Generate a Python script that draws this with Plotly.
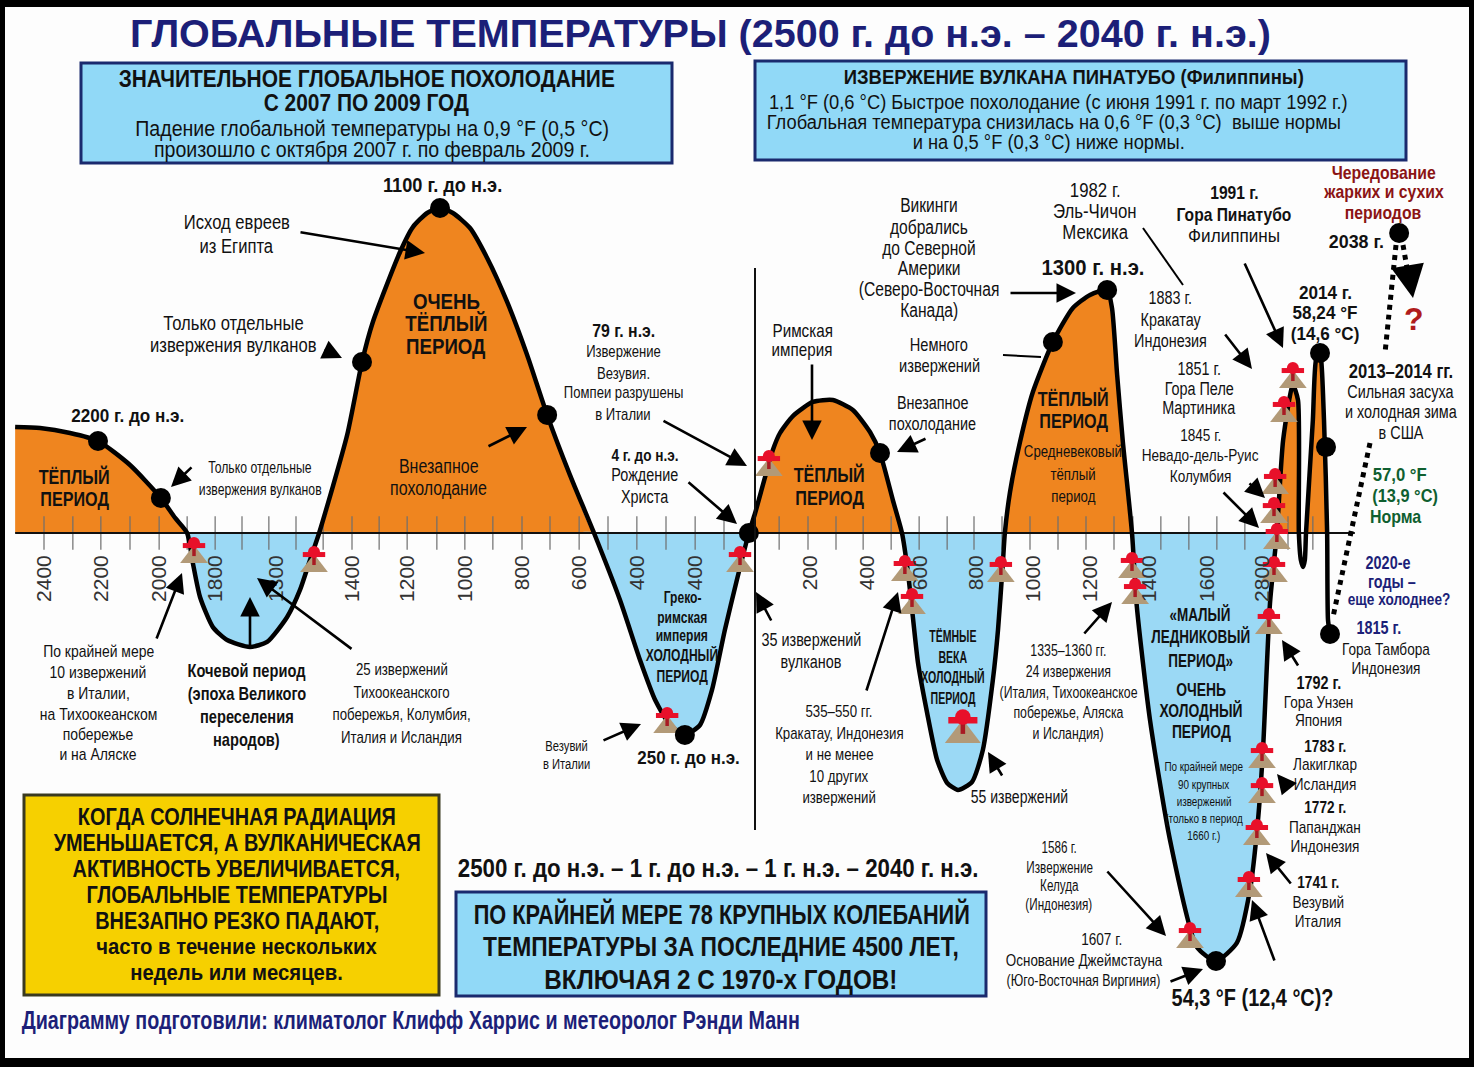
import json
import numpy as np
import plotly.graph_objects as go

W, H = 1474, 1067
PX_PER_F = 160.0
X0_PX, Y0_PX = 750, 533
NORMAL = 57.0

# chart data -------------------------------------------------------------
curve_x = [-2572,-2485,-2380,-2282,-2170,-2062,-2012,-1970,-1950,-1925,-1880,-1830,-1750,-1690,-1620,-1575,-1540,-1508,
           -1410,-1358,-1320,-1225,-1180,-1130,-1085,-1040,-980,-920,-850,-780,-710,-630,-546,-455,-385,-332,-280,-228,-175,-133,-88,-46,-4,
           18,80,105,150,220,290,360,420,455,500,532,553,570,588,620,655,690,728,777,815,850,868,885,892,
           910,945,990,1060,1130,1190,1250,1267,1285,1305,1337,1354,1400,1470,1564,1631,1704,1750,1778,1796,1820,1844,
           1866,1900,1918,1921,1928,1936,1942,1946,1970,1981,1995,2009,2020,2023,2030]
curve_t = [57.662,57.656,57.625,57.575,57.425,57.219,57.094,57.0,56.812,56.6,56.412,56.331,56.288,56.319,56.475,56.644,56.831,57.0,
           57.612,58.069,58.319,58.756,58.912,59.0,59.031,59.0,58.906,58.719,58.444,58.112,57.738,57.362,57.0,56.581,56.206,55.956,55.8,55.738,55.8,56.019,56.394,56.706,57.0,
           57.125,57.519,57.625,57.731,57.819,57.831,57.769,57.631,57.5,57.206,57.0,56.75,56.475,56.188,55.875,55.581,55.438,55.394,55.444,55.644,56.081,56.394,56.812,57.0,
           57.256,57.569,57.881,58.194,58.406,58.488,58.519,58.406,57.988,57.569,57.0,56.538,55.831,55.081,54.412,54.325,54.438,54.769,55.206,55.662,56.562,57.0,
           57.581,57.925,57.831,57.0,56.831,56.788,56.831,57.0,57.706,58.081,58.125,57.706,57.0,56.456,56.369]
COLD_END = 1844

dot_x = [-2282,-2062,-1358,-1085,-710,-228,-4,455,1060,1250,1631,1995,2016,2030,2272]
dot_t = [57.575,57.219,58.069,59.031,57.738,55.738,57.0,57.5,58.194,58.519,54.325,58.125,57.537,56.369,58.875]

volcano_x = [-1946,-1526,-290,-35,66,542,567,878,1337,1348,1900,1869,1838,1834,1844,1834,1816,1792,1792,1774,1746,1540]
volcano_t = [56.812,56.756,55.75,56.756,57.356,56.7,56.494,56.694,56.719,56.556,57.906,57.694,57.244,57.062,56.9,56.694,56.369,55.531,55.312,55.05,54.725,54.406]
big_volcano_x = [745]
big_volcano_t = [55.6875]

tick_x = [-2471,-2370,-2272,-2170,-2068,-1970,-1872,-1778,-1684,-1589,-1494,-1393,-1298,-1200,-1096,-998,-900,-798,-700,-598,-497,-396,-294,-192,-91,
          102,203,301,396,494,592,690,784,882,980,1078,1176,1274,1340,1438,1536,1634,1732,1883,1970]
label_x = [-2471,-2272,-2068,-1872,-1658,-1393,-1200,-998,-798,-598,-396,-192,210,410,595,791,990,1190,1396,1600,1792]
label_text = ["2400","2200","2000","1800","1300","1400","1200","1000","800","600","400","400","200","400","600","800","1000","1200","1400","1600","2800"]

SANS = "Liberation Sans, Arial, sans-serif"
NAVY = "#1c1f78"
ORANGE = "#ef851f"
BLUE = "#9bd9f5"

anom = np.array(curve_t) - NORMAL
cx = np.array(curve_x)
warm = np.maximum(anom, 0)
cold_mask = cx <= COLD_END
SPL = dict(shape="spline", smoothing=0.6)

fig = go.Figure()
fig.add_trace(go.Scatter(x=cx, y=warm, mode="lines", line=dict(width=0, color=ORANGE, **SPL), fill="tozeroy", fillcolor=ORANGE, hoverinfo="skip"))
fig.add_trace(go.Scatter(x=cx[cold_mask], y=np.minimum(anom, 0)[cold_mask], mode="lines", line=dict(width=0, color=BLUE, **SPL), fill="tozeroy", fillcolor=BLUE, hoverinfo="skip"))
fig.add_trace(go.Scatter(x=tick_x, y=[0]*len(tick_x), mode="markers", hoverinfo="skip",
                         marker=dict(symbol="line-ns", size=24, line=dict(width=1.2, color="#6e6e6e"))))
fig.add_trace(go.Scatter(x=[curve_x[0], 2117], y=[0, 0], mode="lines", line=dict(color="#111", width=2), hoverinfo="skip"))
fig.add_trace(go.Scatter(x=cx, y=anom, mode="lines", line=dict(color="#000", width=4.5, **SPL), hoverinfo="skip"))


def volcanoes(xs, ts, k=1.0):
    a = np.array(ts) - NORMAL
    p = 1 / PX_PER_F
    fig.add_trace(go.Scatter(x=xs, y=a + 6*k*p, mode="markers", hoverinfo="skip",
                             marker=dict(symbol="triangle-up", size=24*k, color="#b29a78", line=dict(width=0))))
    fig.add_trace(go.Scatter(x=xs, y=a + 14*k*p, mode="markers", hoverinfo="skip",
                             marker=dict(symbol="line-ns", size=10*k, line=dict(width=3.5*k, color="#a81a22"))))
    fig.add_trace(go.Scatter(x=xs, y=a + 17.5*k*p, mode="markers", hoverinfo="skip",
                             marker=dict(symbol="line-ew", size=16*k, line=dict(width=5*k, color="#e8102a"))))
    fig.add_trace(go.Scatter(x=xs, y=a + 20*k*p, mode="markers", hoverinfo="skip",
                             marker=dict(symbol="circle", size=12*k, color="#e8102a", line=dict(width=0))))


volcanoes(volcano_x, volcano_t)
volcanoes(big_volcano_x, big_volcano_t, 1.3)

fig.add_trace(go.Scatter(x=dot_x, y=np.array(dot_t) - NORMAL, mode="markers", hoverinfo="skip",
                         marker=dict(size=20, color="#000", line=dict(width=0))))

shapes, annots, squeeze = [], [], []


def px(x): return x / W
def py(y): return 1 - y / H


def rect(x0, y0, x1, y1, fill, line=None, lw=0):
    shapes.append(dict(type="rect", xref="paper", yref="paper", x0=px(x0), x1=px(x1), y0=py(y0), y1=py(y1),
                       fillcolor=fill, line=dict(color=line or fill, width=lw), layer="below"))


def seg(x0, y0, x1, y1, color="#000", w=2, dash=None):
    shapes.append(dict(type="line", xref="paper", yref="paper", x0=px(x0), x1=px(x1), y0=py(y0), y1=py(y1),
                       line=dict(color=color, width=w, dash=dash or "solid"), layer="above"))


def txt(x, y, s, size=20, bold=False, color="#111", sq=0.8):
    annots.append(dict(xref="paper", yref="paper", x=px(x), y=py(y), text=s, showarrow=False,
                       xanchor="center", yanchor="middle",
                       font=dict(family=SANS, size=size, color=color, weight="bold" if bold else "normal")))
    squeeze.append(sq)


def block(x, ys, lines, size=20, bold=False, color="#111", sq=0.8):
    for y, s in zip(ys, lines):
        txt(x, y, s, size, bold, color, sq)


def arrow(x0, y0, x1, y1, head=2, w=2.6, s=1.5):
    annots.append(dict(xref="paper", yref="paper", x=px(x1), y=py(y1), ax=x0 - x1, ay=y0 - y1, axref="pixel", ayref="pixel",
                       text="", showarrow=True, arrowhead=head, arrowwidth=w, arrowsize=s, arrowcolor="#000"))
    squeeze.append(1)


# frame and boxes
rect(0, 0, W, H, "#000")
rect(5, 7, 1469, 1058, "#fdfdfd")
rect(81, 63, 672, 163, "#91d9f7", "#1a2a6e", 3)
rect(755, 61, 1406, 160, "#91d9f7", "#1a2a6e", 3)
rect(24, 795, 439, 995, "#f6d000", "#3a3a20", 3)
rect(456, 892, 986, 996, "#91d9f7", "#1a2a6e", 3)
seg(755, 268, 755, 830, "#111", 2)

txt(700, 33, "ГЛОБАЛЬНЫЕ ТЕМПЕРАТУРЫ (2500 г. до н.э. – 2040 г. н.э.)", 39.5, True, NAVY, 1)
block(366, [79, 103], ["ЗНАЧИТЕЛЬНОЕ ГЛОБАЛЬНОЕ ПОХОЛОДАНИЕ", "С 2007 ПО 2009 ГОД"], 23.5, True, sq=0.89)
block(372, [128, 149], ["Падение глобальной температуры на 0,9 °F (0,5 °C)", "произошло с октября 2007 г. по февраль 2009 г."], 22, sq=0.89)
txt(1073, 77, "ИЗВЕРЖЕНИЕ ВУЛКАНА ПИНАТУБО (Филиппины)", 20, True, sq=0.925)
txt(1058, 102, "1,1 °F (0,6 °C) Быстрое похолодание (с июня 1991 г. по март 1992 г.)", 20, sq=0.915)
txt(1054, 122, "Глобальная температура снизилась на 0,6 °F (0,3 °C)  выше нормы", 20, sq=0.915)
txt(1049, 142, "и на 0,5 °F (0,3 °C) ниже нормы.", 20, sq=0.915)

txt(442, 185, "1100 г. до н.э.", 20, True, sq=0.91)
block(237, [222, 246], ["Исход евреев", "из Египта"], 20, sq=0.83)
block(233, [323, 345], ["Только отдельные", "извержения вулканов"], 20, sq=0.83)
block(446, [301, 323, 346], ["ОЧЕНЬ", "ТЁПЛЫЙ", "ПЕРИОД"], 22, True, sq=0.85)
block(439, [466, 488], ["Внезапное", "похолодание"], 20)
txt(128, 416, "2200 г. до н.э.", 19, True, sq=0.9)
block(74, [476, 498], ["ТЁПЛЫЙ", "ПЕРИОД"], 21, True, sq=0.77)
block(260, [467, 489], ["Только отдельные", "извержения вулканов"], 17, sq=0.72)
txt(624, 331, "79 г. н.э.", 18, True, sq=0.88)
block(623, [352, 373, 393, 414], ["Извержение", "Везувия.", "Помпеи разрушены", "в Италии"], 17, sq=0.77)
txt(645, 455, "4 г. до н.э.", 17, True)
block(645, [475, 497], ["Рождение", "Христа"], 18)
block(802, [330, 350], ["Римская", "империя"], 19)
block(933, [403, 424], ["Внезапное", "похолодание"], 18)
block(829, [474, 497], ["ТЁПЛЫЙ", "ПЕРИОД"], 21, True, sq=0.77)
block(929, [205, 227, 248, 268, 289, 310], ["Викинги", "добрались", "до Северной", "Америки", "(Северо-Восточная", "Канада)"], 20, sq=0.78)
block(939, [344, 365], ["Немного", "извержений"], 19, sq=0.77)
txt(1093, 267, "1300 г. н.э.", 22, True, sq=0.92)
block(1095, [190, 211, 232], ["1982 г.", "Эль-Чичон", "Мексика"], 20, sq=0.84)
block(1073, [398, 420], ["ТЁПЛЫЙ", "ПЕРИОД"], 21, True, sq=0.77)
block(1073, [451, 474, 496], ["Средневековый", "тёплый", "период"], 17, sq=0.78)
block(1170, [298, 320, 341], ["1883 г.", "Кракатау", "Индонезия"], 18)
block(1199, [369, 389, 408], ["1851 г.", "Гора Пеле", "Мартиника"], 18)
block(1200, [435, 455, 476], ["1845 г.", "Невадо-дель-Руис", "Колумбия"], 17)
block(1234, [193, 214], ["1991 г.", "Гора Пинатубо"], 19, True, sq=0.82)
txt(1234, 235, "Филиппины", 19, sq=0.9)
block(1383, [172, 192, 212], ["Чередование", "жарких и сухих", "периодов"], 19, True, "#8b1414", sq=0.83)
txt(1356, 242, "2038 г.", 19, True, sq=0.94)
txt(1414, 319, "?", 32, True, "#b01c1c", 1)
block(1325, [292, 312, 333], ["2014 г.", "58,24 °F", "(14,6 °C)"], 19, True, sq=0.9)
txt(1401, 371, "2013–2014 гг.", 20, True, sq=0.83)
block(1401, [392, 412, 433], ["Сильная засуха", "и холодная зима", "в США"], 18)
txt(1399, 474, "57,0 °F", 19, True, "#0f5f30", 0.88)
txt(1405, 495, "(13,9 °C)", 19, True, "#0f5f30", 0.86)
txt(1395, 516, "Норма", 19, True, "#0f5f30", 0.84)
txt(1388, 563, "2020-е", 18, True, NAVY)
txt(1392, 582, "годы –", 18, True, NAVY)
txt(1399, 599, "еще холоднее?", 17, True, NAVY)
txt(1379, 628, "1815 г.", 18, True, NAVY)
block(1386, [649, 668], ["Гора Тамбора", "Индонезия"], 17)
txt(1319, 683, "1792 г.", 18, True)
block(1318, [702, 720], ["Гора Унзен", "Япония"], 17)
txt(1325, 746, "1783 г.", 17, True)
block(1325, [765, 784], ["Лакиглкар", "Исландия"], 17)
txt(1325, 807, "1772 г.", 17, True)
block(1325, [827, 846], ["Папанджан", "Индонезия"], 17)
txt(1318, 882, "1741 г.", 17, True)
block(1318, [902, 921], ["Везувий", "Италия"], 17)
block(1200, [614, 636, 660], ["«МАЛЫЙ", "ЛЕДНИКОВЫЙ", "ПЕРИОД»"], 19, True, sq=0.71)
block(1201, [689, 710, 732], ["ОЧЕНЬ", "ХОЛОДНЫЙ", "ПЕРИОД"], 19, True, sq=0.73)
block(1204, [766, 784, 801, 818, 835], ["По крайней мере", "90 крупных", "извержений", "(только в период", "1660 г.)"], 13, sq=0.76)
block(1059, [847, 867, 885, 904], ["1586 г.", "Извержение", "Келуда", "(Индонезия)"], 16, sq=0.73)
txt(1101, 939, "1607 г.", 17)
txt(1084, 960, "Основание Джеймстауна", 17, sq=0.79)
txt(1083, 980, "(Юго-Восточная Виргиния)", 16.5, sq=0.75)
txt(1252, 998, "54,3 °F (12,4 °C)?", 23, True, sq=0.865)
block(1068, [650, 671, 692, 712, 733], ["1335–1360 гг.", "24 извержения", "(Италия, Тихоокеанское", "побережье, Аляска", "и Исландия)"], 16, sq=0.77)
block(953, [636, 657, 677, 698], ["ТЁМНЫЕ", "ВЕКА", "ХОЛОДНЫЙ", "ПЕРИОД"], 16, True, sq=0.66)
txt(1020, 797, "55 извержений", 18, sq=0.78)
block(839, [711, 733, 754, 776, 797], ["535–550 гг.", "Кракатау, Индонезия", "и не менее", "10 других", "извержений"], 17, sq=0.78)
block(811, [640, 662], ["35 извержений", "вулканов"], 18)
block(682, [597, 617, 635, 655, 676], ["Греко-", "римская", "империя", "ХОЛОДНЫЙ", "ПЕРИОД"], 17, True, sq=0.71)
txt(688, 757, "250 г. до н.э.", 19, True, sq=0.89)
block(566, [746, 764], ["Везувий", "в Италии"], 14)
block(98, [651, 672, 693, 714, 734, 754], ["По крайней мере", "10 извержений", "в Италии,", "на Тихоокеанском", "побережье", "и на Аляске"], 17, sq=0.82)
block(247, [670, 693, 716, 739], ["Кочевой период", "(эпоха Великого", "переселения", "народов)"], 19, True, sq=0.77)
block(402, [669, 692, 714, 737], ["25 извержений", "Тихоокеанского", "побережья, Колумбия,", "Италия и Исландия"], 17, sq=0.78)
block(237, [817, 843, 869, 895, 921], ["КОГДА СОЛНЕЧНАЯ РАДИАЦИЯ", "УМЕНЬШАЕТСЯ, А ВУЛКАНИЧЕСКАЯ", "АКТИВНОСТЬ УВЕЛИЧИВАЕТСЯ,", "ГЛОБАЛЬНЫЕ ТЕМПЕРАТУРЫ", "ВНЕЗАПНО РЕЗКО ПАДАЮТ,"], 23, True, sq=0.865)
block(237, [947, 972], ["часто в течение нескольких", "недель или месяцев."], 22, True, sq=0.92)
txt(718, 868, "2500 г. до н.э. – 1 г. до н.э. – 1 г. н.э. – 2040 г. н.э.", 26, True, sq=0.856)
txt(721, 914, "ПО КРАЙНЕЙ МЕРЕ 78 КРУПНЫХ КОЛЕБАНИЙ", 28, True, sq=0.776)
txt(721, 947, "ТЕМПЕРАТУРЫ ЗА ПОСЛЕДНИЕ 4500 ЛЕТ,", 28, True, sq=0.815)
txt(721, 980, "ВКЛЮЧАЯ 2 С 1970-х ГОДОВ!", 28, True, sq=0.866)
txt(411, 1020, "Диаграмму подготовили: климатолог Клифф Харрис и метеоролог Рэнди Манн", 25, True, NAVY, 0.788)

# arrows
for a in [(299,232,425,253),(323,349,342,358),(487,447,527,427),(193,466,171,487),(156,640,182,573),(250,648,250,597),
          (353,650,257,578),(662,420,747,466),(687,481,737,524),(812,363,812,440),(927,438,897,452),(772,622,756,592),
          (866,692,898,592),(1009,293,1076,293),(1224,333,1252,369),(1244,262,1283,348),(1248,482,1265,498),(1222,491,1259,528),
          (1299,667,1282,640),(1290,790,1277,774),(1292,885,1266,853),(1275,962,1252,900),(1106,870,1166,936),(1169,982,1203,969),
          (1083,635,1112,602),(1003,777,988,752),(602,741,641,724)]:
    arrow(*a)
seg(1003, 355, 1041, 357)
seg(1143, 228, 1183, 285)
seg(1403, 245, 1410, 285, "#000", 5, "dot")
arrow(1410, 280, 1413, 298, 2, 3, 2.2)
seg(1396, 245, 1385, 353, "#000", 5, "dot")
seg(1370, 443, 1333, 617, "#000", 5, "dot")

fig.update_layout(
    width=W, height=H, margin=dict(l=0, r=0, t=0, b=0), autosize=False, showlegend=False,
    paper_bgcolor="#fdfdfd", plot_bgcolor="rgba(0,0,0,0)", shapes=shapes, annotations=annots,
    xaxis=dict(range=[(0 - X0_PX) * 3.5, (W - X0_PX) * 3.5], domain=[0, 1], anchor="free",
               position=1 - Y0_PX / H, showgrid=False, zeroline=False, showline=False, ticks="",
               tickmode="array", tickvals=label_x, ticktext=label_text, tickangle=-90, ticklabelstandoff=17,
               tickfont=dict(family=SANS, size=21, color="#333")),
    yaxis=dict(range=[-(H - Y0_PX) / PX_PER_F, Y0_PX / PX_PER_F], domain=[0, 1], visible=False),
)
# The condensed look of the original: Liberation Sans squeezed to width, the text stays real text.
POST = """
document.body.style.margin='0';
var F=%s;
document.querySelectorAll('.annotation').forEach(function(g){
  var f=F[+g.getAttribute('data-index')], t=g.querySelector('.annotation-text');
  if(!t||!f||f===1) return;
  var n=t.getComputedTextLength();
  if(n>0){t.setAttribute('lengthAdjust','spacingAndGlyphs');t.setAttribute('textLength',(n*f).toFixed(1));}
});
""" % json.dumps(squeeze)
fig.write_html("out.html", config=dict(displayModeBar=False), post_script=POST)
